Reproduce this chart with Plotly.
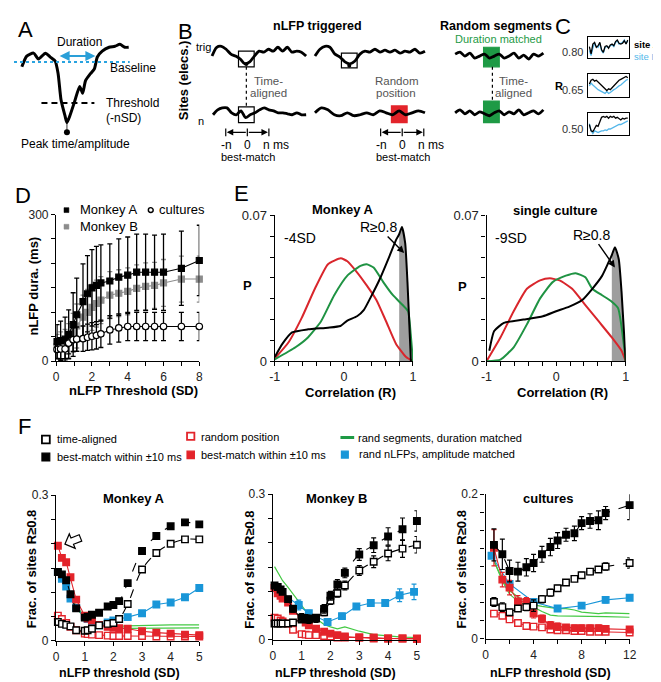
import numpy as np
import plotly.graph_objects as go

W, H = 661, 682
FONT = "Liberation Sans, Arial, sans-serif"

RED = "#e3242b"
E_RED = "#d9262c"
E_GREEN = "#1f9343"
F_GREEN = "#44c944"
BLUE = "#1996d8"
SKY = "#55b7ea"
GREY = "#8c8c8c"
BOX_GREEN = "#1e9a45"

# ───────── A: schematic nLFP (local time, deflection below baseline) ─────────
wave_a_t = [0, 5, 12, 17, 24, 29, 34, 37, 40, 44, 46, 49, 54, 59, 62, 65, 70, 74, 77, 82, 89, 95, 100, 105, 109]
wave_a_v = [5, -6, -9, -3, -9, -5, -1, 12, 39, 55, 62, 55, 40, 25, 32, 19, 12, 7, -5, -11, -15, -16, -18, -15, -15]

# ───────── B: schematic traces (deflection per sample) ─────────
trig_wave_1 = [2, -7, -8, -5, 0, 2, 5, 10, 8, 2, -3, -2, -5, -3, -7, -3, -7, -2, -3, -2, 2]
site_wave_1 = [2, -3, -5, -5, 0, 2, -2, 5, 2, 0, -3, -5, -3, -2, 0, 0, 1, 2, 0, 2, 2]
trig_wave_2 = [2, -5, -8, -7, 0, 3, 8, 10, 7, 0, -3, -2, -5, -2, -4, -2, -4, -1, -3, -2, -5, -1, -3]
site_wave_2 = [0, -5, -3, 2, 3, 0, 3, 2, 0, 2, -2, 0, 2, -2, 2, 0, -2, 0]
rand_trig = [-2, -4, 0, -3, 2, 0, -2, 2, 0, -2, 2, 0, -3, 2, -1, 3, -2, 0, -3]
rand_site = [0, -3, 1, -2, 2, -1, 1, 3, 0, -2, 2, -1, 1, -3, 2, 0, -2, 1, -3]

# ───────── C: example site pairs ─────────
c_r_labels = ["0.80", "0.65", "0.50"]
c1_site_a = [0.55, 0.1, 0.7, 0.8, 0.5, 0.6, 0.8, 0.35, 0.2, 0.55, 0.6, 0.45, 0.65, 0.7, 0.6, 0.85, 0.95, 0.75, 0.7, 0.75, 0.9, 0.7, 0.95]
c1_site_b = [0.3, 0.0, 0.45, 0.75, 0.55, 0.5, 0.75, 0.3, 0.15, 0.5, 0.55, 0.5, 0.6, 0.65, 0.55, 0.8, 0.9, 0.7, 0.75, 0.8, 0.95, 0.75, 0.9]
c2_site_a = [0.55, 0.75, 0.8, 0.7, 0.75, 0.65, 0.6, 0.5, 0.35, 0.25, 0.2, 0.3, 0.25, 0.35, 0.45, 0.6, 0.7, 0.75, 0.8, 0.85, 0.9, 0.95, 0.88]
c2_site_b = [0.45, 0.6, 0.5, 0.4, 0.35, 0.25, 0.2, 0.15, 0.1, 0.05, 0.15, 0.05, 0.1, 0.2, 0.25, 0.3, 0.4, 0.45, 0.5, 0.6, 0.65, 0.75, 0.8]
c3_site_a = [0.45, 0.1, 0.05, 0.25, 0.4, 0.35, 0.6, 0.85, 0.9, 0.85, 0.9, 0.8, 0.9, 0.85, 0.9, 0.8, 0.85, 0.75, 0.7, 0.8, 0.75, 0.8, 0.8]
c3_site_b = [0.5, 0.1, -0.05, 0.1, 0.05, 0.0, 0.05, 0.1, 0.1, 0.15, 0.12, 0.2, 0.2, 0.25, 0.3, 0.35, 0.4, 0.45, 0.45, 0.5, 0.55, 0.6, 0.65]

# ───────── D: nLFP duration vs threshold ─────────
thr_d = [0.05, 0.25, 0.5, 0.7, 0.95, 1.15, 1.5, 1.75, 2.0, 2.25, 2.5, 3.0, 3.5, 4.0, 4.5, 5.0, 5.5, 6.0, 7.0, 8.0]
dur_monkey_a = [40, 42, 45, 55, 75, 95, 122, 138, 150, 155, 160, 164, 172, 176, 182, 182, 182, 182, 190, 206]
sd_monkey_a = [35, 40, 45, 50, 65, 75, 77, 78, 78, 80, 78, 76, 78, 78, 78, 78, 76, 78, 76, 72]
dur_monkey_b = [30, 32, 35, 42, 58, 72, 90, 100, 110, 118, 125, 135, 139, 143, 149, 153, 155, 160, 168, 168]
sd_monkey_b = [25, 28, 30, 35, 40, 45, 45, 47, 47, 48, 48, 48, 48, 48, 48, 48, 47, 48, 47, 47]
dur_cultures = [24, 25, 25, 37, 44, 45, 46, 49, 51, 53, 56, 64, 68, 71, 71, 71, 71, 71, 71, 71]
sd_cultures = [18, 20, 20, 22, 24, 25, 26, 27, 28, 28, 28, 29, 29, 29, 29, 29, 29, 29, 29, 29]

# ───────── E: correlation distributions ─────────
ea_trig_r = [-1, -0.89, -0.75, -0.52, -0.23, -0.05, 0.05, 0.19, 0.29, 0.38, 0.52, 0.66, 0.755, 0.8, 0.84, 0.887, 0.92, 0.953, 0.97]
ea_trig_p = [0.002, 0.0083, 0.0138, 0.0153, 0.0161, 0.0169, 0.0195, 0.0216, 0.0247, 0.0302, 0.0395, 0.0505, 0.0583, 0.061, 0.0645, 0.0567, 0.038, 0.013, 0.0]
ea_rpos_r = [-1, -0.8, -0.61, -0.42, -0.23, -0.045, 0.05, 0.19, 0.33, 0.47, 0.61, 0.755, 0.9, 1.0]
ea_rpos_p = [0.0013, 0.0091, 0.0208, 0.0348, 0.0466, 0.0494, 0.048, 0.0427, 0.0364, 0.0294, 0.0192, 0.0083, 0.002, 0.0]
ea_rseg_r = [-1, -0.7, -0.52, -0.33, -0.14, 0.05, 0.24, 0.33, 0.43, 0.57, 0.71, 0.85, 0.93, 0.967, 1.0]
ea_rseg_p = [0.0009, 0.0067, 0.0114, 0.0192, 0.0317, 0.0411, 0.0458, 0.0466, 0.045, 0.038, 0.0317, 0.027, 0.0239, 0.013, 0.0]

ec_trig_r = [-0.96, -0.89, -0.75, -0.47, -0.19, 0.0, 0.19, 0.375, 0.52, 0.66, 0.75, 0.8, 0.845, 0.9, 0.94, 1.0]
ec_trig_p = [0.005, 0.0145, 0.0184, 0.02, 0.0216, 0.024, 0.0262, 0.0294, 0.0348, 0.041, 0.0473, 0.051, 0.0548, 0.049, 0.0333, 0.0]
ec_rpos_r = [-1, -0.8, -0.61, -0.42, -0.23, -0.09, 0.05, 0.23, 0.42, 0.61, 0.8, 0.94, 1.0]
ec_rpos_p = [0.0, 0.0114, 0.024, 0.0348, 0.0388, 0.0398, 0.0388, 0.0348, 0.027, 0.0192, 0.0114, 0.005, 0.0]
ec_rseg_r = [-1, -0.8, -0.61, -0.42, -0.23, -0.05, 0.14, 0.28, 0.42, 0.52, 0.66, 0.8, 0.89, 1.0]
ec_rseg_p = [0.0, 0.0008, 0.0067, 0.0177, 0.0302, 0.038, 0.0411, 0.0423, 0.0403, 0.0348, 0.0317, 0.0286, 0.0255, 0.0]

# ───────── F: fraction of sites R>=0.8 ─────────
thr_fa = [0.06, 0.2, 0.35, 0.5, 0.7, 1.0, 1.1, 1.25, 1.5, 1.8, 2.0, 2.2, 2.5, 3.0, 3.5, 4.0, 4.5, 5.0]
fa_best = [0.142, 0.137, 0.125, 0.096, 0.067, 0.048, 0.050, 0.054, 0.058, 0.071, 0.074, 0.082, 0.119, 0.185, 0.216, 0.236, 0.244, 0.240]
fa_align = [0.039, 0.035, 0.033, 0.030, 0.022, 0.021, 0.022, 0.025, 0.032, 0.035, 0.037, 0.045, 0.076, 0.147, 0.181, 0.200, 0.209, 0.209]
fa_rbest = [0.196, 0.171, 0.162, 0.131, 0.085, 0.052, 0.046, 0.042, 0.033, 0.029, 0.027, 0.026, 0.025, 0.020, 0.017, 0.015, 0.013, 0.012]
fa_rpos = [0.052, 0.045, 0.037, 0.029, 0.022, 0.015, 0.014, 0.013, 0.012, 0.011, 0.010, 0.010, 0.010, 0.010, 0.009, 0.009, 0.009, 0.009]
fa_ramp = [0.142, 0.128, 0.112, 0.087, 0.068, 0.049, 0.045, 0.040, 0.032, 0.038, 0.042, 0.045, 0.049, 0.057, 0.075, 0.079, 0.090, 0.109]
fa_rseg_1 = [0.140, 0.125, 0.110, 0.090, 0.068, 0.047, 0.042, 0.037, 0.032, 0.031, 0.030, 0.030, 0.031, 0.032, 0.032, 0.033, 0.033, 0.033]
fa_rseg_2 = [0.140, 0.127, 0.113, 0.093, 0.072, 0.050, 0.045, 0.040, 0.034, 0.030, 0.028, 0.027, 0.026, 0.026, 0.026, 0.027, 0.027, 0.027]

thr_fb = [0.06, 0.17, 0.27, 0.34, 0.53, 0.7, 1.0, 1.14, 1.25, 1.5, 1.78, 2.0, 2.24, 2.5, 3.0, 3.5, 4.0, 4.5, 5.0]
fb_best = [0.112, 0.109, 0.104, 0.099, 0.084, 0.064, 0.046, 0.044, 0.042, 0.044, 0.064, 0.091, 0.114, 0.138, 0.176, 0.195, 0.213, 0.228, 0.245]
fb_best_err = [0.005, 0.005, 0.005, 0.005, 0.006, 0.007, 0.008, 0.008, 0.008, 0.008, 0.009, 0.009, 0.010, 0.010, 0.012, 0.015, 0.018, 0.023, 0.021]
fb_align = [0.034, 0.034, 0.034, 0.034, 0.034, 0.036, 0.042, 0.043, 0.044, 0.046, 0.057, 0.081, 0.096, 0.112, 0.143, 0.161, 0.178, 0.188, 0.196]
fb_align_err = [0.003, 0.003, 0.003, 0.003, 0.003, 0.004, 0.005, 0.005, 0.005, 0.006, 0.007, 0.008, 0.008, 0.009, 0.010, 0.012, 0.015, 0.018, 0.017]
fb_rbest = [0.107, 0.096, 0.091, 0.085, 0.077, 0.060, 0.044, 0.036, 0.030, 0.023, 0.017, 0.013, 0.010, 0.007, 0.005, 0.003, 0.003, 0.003, 0.002]
fb_rpos = [0.046, 0.044, 0.040, 0.038, 0.034, 0.021, 0.012, 0.011, 0.010, 0.010, 0.008, 0.007, 0.005, 0.005, 0.005, 0.005, 0.003, 0.003, 0.003]
fb_rseg = [0.151, 0.140, 0.128, 0.122, 0.108, 0.095, 0.070, 0.060, 0.055, 0.044, 0.032, 0.027, 0.023, 0.027, 0.018, 0.011, 0.008, 0.006, 0.005]
thr_fb_amp = [0.17, 0.9, 1.25, 1.9, 2.4, 2.9, 3.4, 3.9, 4.4, 4.9]
fb_ramp = [0.104, 0.072, 0.055, 0.037, 0.049, 0.069, 0.076, 0.076, 0.092, 0.099]
fb_ramp_err = [0.0, 0.010, 0.006, 0.005, 0.006, 0.005, 0.006, 0.006, 0.013, 0.016]

thr_fc = [0.7, 1.4, 2.0, 2.7, 3.4, 4.0, 4.7, 5.4, 6.0, 6.7, 7.4, 8.0, 8.7, 9.4, 10.0, 12.0]
fc_best = [0.130, 0.117, 0.094, 0.093, 0.099, 0.105, 0.117, 0.127, 0.136, 0.144, 0.146, 0.160, 0.163, 0.164, 0.174, 0.185]
fc_best_err = [0.022, 0.021, 0.015, 0.013, 0.012, 0.012, 0.011, 0.012, 0.011, 0.009, 0.010, 0.009, 0.010, 0.013, 0.009, 0.020]
fc_align = [0.051, 0.044, 0.037, 0.042, 0.044, 0.046, 0.055, 0.064, 0.070, 0.078, 0.083, 0.088, 0.093, 0.096, 0.100, 0.105]
fc_align_err = [0.006, 0.006, 0.004, 0.004, 0.005, 0.008, 0.005, 0.005, 0.004, 0.004, 0.003, 0.004, 0.004, 0.004, 0.005, 0.007]
fc_rbest = [0.126, 0.082, 0.071, 0.052, 0.051, 0.035, 0.028, 0.019, 0.017, 0.016, 0.015, 0.015, 0.015, 0.015, 0.014, 0.013]
fc_rbest_err = [0.025, 0.010, 0.010, 0.008, 0.006, 0.006, 0.005, 0.005, 0.005, 0.004, 0.004, 0.004, 0.004, 0.004, 0.004, 0.004]
fc_rpos = [0.035, 0.032, 0.027, 0.022, 0.018, 0.017, 0.016, 0.013, 0.012, 0.012, 0.011, 0.011, 0.010, 0.010, 0.010, 0.009]
fc_rseg_1 = [0.108, 0.082, 0.067, 0.058, 0.051, 0.047, 0.045, 0.043, 0.042, 0.042, 0.040, 0.037, 0.036, 0.035, 0.036, 0.035]
fc_rseg_2 = [0.108, 0.080, 0.062, 0.052, 0.047, 0.044, 0.038, 0.033, 0.032, 0.032, 0.032, 0.031, 0.031, 0.031, 0.031, 0.030]
thr_fc_amp = [0.5, 2.0, 4.0, 6.0, 8.0, 10.0, 12.0]
fc_ramp = [0.115, 0.076, 0.051, 0.042, 0.046, 0.054, 0.057]
fc_ramp_err = [0.0, 0.003, 0.004, 0.004, 0.003, 0.004, 0.004]


def xd(a, b):
    return [a / W, b / W]


def yd(top, bot):
    return [1 - bot / H, 1 - top / H]


fig = go.Figure()


# ────── sketch layer: pixel-coordinate overlay (x, y) ──────
def sk(x, y, **kw):
    kw.setdefault("mode", "lines")
    fig.add_trace(go.Scatter(x=x, y=y, xaxis="x", yaxis="y", hoverinfo="skip",
                             showlegend=False, cliponaxis=False, **kw))


annotations = []
shapes = []


def txt(x, y, s, size=12, bold=False, color="black", anchor="center", angle=0):
    if bold:
        s = f"<b>{s}</b>"
    annotations.append(dict(x=x, y=y, xref="x", yref="y", text=s, showarrow=False,
                            xanchor=anchor, yanchor="middle", textangle=angle,
                            font=dict(family=FONT, size=size, color=color)))


def arrow(x0, y0, x1, y1, color="black", width=1.4, head=2, both=False):
    annotations.append(dict(x=x1, y=y1, ax=x0, ay=y0, xref="x", yref="y", axref="x", ayref="y",
                            text="", showarrow=True, arrowhead=head, arrowsize=1,
                            arrowwidth=width, arrowcolor=color,
                            arrowside="end+start" if both else "end", startarrowhead=head))


def line(x0, y0, x1, y1, color="black", width=1.2, dash="solid"):
    shapes.append(dict(type="line", xref="x", yref="y", x0=x0, y0=y0, x1=x1, y1=y1,
                       line=dict(color=color, width=width, dash=dash)))


def rect(x0, y0, x1, y1, line_color="black", fill="rgba(0,0,0,0)", width=1.2, layer="above"):
    shapes.append(dict(type="rect", xref="x", yref="y", x0=x0, y0=y0, x1=x1, y1=y1,
                       line=dict(color=line_color, width=width), fillcolor=fill, layer=layer))


# panel letters
for lab, (lx, ly) in {"A": (12, 15), "B": (175, 17), "C": (560, 12), "D": (9, 185),
                      "E": (232, 183), "F": (11, 421)}.items():
    txt(lx, ly, lab, size=22)

# ── A ──
sk([8 + t for t in wave_a_t], [48 + v for v in wave_a_v],
   line=dict(color="black", width=3, shape="spline", smoothing=0.6))
line(0, 48, 118, 48, color="#29a3e0", width=2, dash="dot")
line(28, 90, 82, 90, color="black", width=2, dash="6px,4px")
line(54, 111, 54, 120, color="black", width=0.8)
sk([54], [120], mode="markers", marker=dict(color="black", size=6))
arrow(45, 42, 83, 42, color="#2a9fd8", width=2, head=2, both=True)
txt(67, 28, "Duration")
txt(96, 54, "Baseline", anchor="left")
txt(92, 90, "Threshold", anchor="left")
txt(92, 105, "(-nSD)", anchor="left")
txt(63, 132, "Peak time/amplitude")

# ── B ──
txt(173, 67, "Sites (elecs.)", size=13, bold=True, angle=-90)
txt(184, 33, "trig", size=11, anchor="left")
txt(186, 108, "n", size=11, anchor="left")
txt(310, 11, "nLFP triggered", size=12.5, bold=True)
txt(492, 11, "Random segments", size=12.5, bold=True)
txt(494, 25, "Duration matched", size=11, color=BOX_GREEN)


def place(offs, x0, step, base, width=2.8):
    sk([x0 + step * i for i in range(len(offs))], [base + o for o in offs],
       line=dict(color="black", width=width, shape="spline", smoothing=0.8))


rect(385, 93, 401, 110, line_color=RED, fill=RED, layer="below")
rect(479, 33, 495, 53, line_color=BOX_GREEN, fill=BOX_GREEN, layer="below")
rect(479, 88, 495, 110, line_color=BOX_GREEN, fill=BOX_GREEN, layer="below")
place(trig_wave_1, 202, 4.8, 40)
place(site_wave_1, 203, 4.75, 100)
place(trig_wave_2, 307, 5.1, 40)
place(site_wave_2, 307, 6.6, 100)
place(rand_trig, 450, 5.0, 42)
place(rand_site, 450, 5.0, 100)
rect(229, 37, 245, 53)
rect(229, 94, 245, 110)
rect(334, 39, 350, 54)
sk([237, 342], [50, 52], mode="markers", marker=dict(color="black", size=4))
line(237, 53, 237, 95, dash="dot", width=1.2)
line(488, 53, 488, 88, dash="dot", width=1.2)
for cx, cy in [(260, 67), (510, 67)]:
    txt(cx, cy, "Time-", size=11.5, color="#555")
    txt(cx, cy + 13, "aligned", size=11.5, color="#555")
txt(390, 67, "Random", size=11.5, color="#555")
txt(390, 80, "position", size=11.5, color="#555")
for c in (238, 396):
    for xx in (c - 22, c, c + 22):
        line(xx, 116, xx, 124, width=1.2)
    arrow(c, 120, c - 21, 120, width=1.3, head=2)
    arrow(c, 120, c + 21, 120, width=1.3, head=2)
    txt(c - 21, 133, "-n", size=12)
    txt(c, 133, "0", size=12)
    txt(c + 29, 133, "n ms", size=12)
    txt(c + 1, 145, "best-match", size=11)

# ── C ──
c_pairs = [(c1_site_a, c1_site_b), (c2_site_a, c2_site_b), (c3_site_a, c3_site_b)]
for k, (sa, sb) in enumerate(c_pairs):
    xa, ya = f"x{8 + k}", f"y{8 + k}"
    fig.add_trace(go.Scatter(y=sb, xaxis=xa, yaxis=ya, mode="lines", showlegend=False,
                             line=dict(color=SKY, width=1.3), hoverinfo="skip"))
    fig.add_trace(go.Scatter(y=sa, xaxis=xa, yaxis=ya, mode="lines", showlegend=False,
                             line=dict(color="black", width=1.3), hoverinfo="skip"))
for lab, cy in zip(c_r_labels, (38, 77, 117)):
    txt(582, cy, lab, size=11, anchor="right", color="#333")
txt(556, 73, "R", size=11, bold=True)
txt(630, 30.5, "site A", size=9.5, bold=True, anchor="left")
txt(630, 42.5, "site B", size=9.5, color=SKY, anchor="left")

# ── D ──
for yv, err, col, op in [(dur_monkey_b, sd_monkey_b, GREY, False),
                         (dur_monkey_a, sd_monkey_a, "black", False),
                         (dur_cultures, sd_cultures, "black", True)]:
    fig.add_trace(go.Scatter(
        x=thr_d, y=yv, xaxis="x2", yaxis="y2", mode="lines+markers", showlegend=False,
        cliponaxis=False,
        line=dict(color=col, width=1.1),
        marker=dict(symbol="circle" if op else "square", size=6.5 if op else 6,
                    color="white" if op else col, line=dict(color=col, width=1.2)),
        error_y=dict(type="data", array=err, color=col, thickness=1.3, width=2.5)))
rect(51, 197, 56, 202, line_color="black", fill="black", width=0.5)
rect(51, 214, 56, 219, line_color=GREY, fill=GREY, width=0.5)
shapes.append(dict(type="circle", xref="x", yref="y", x0=137, y0=197, x1=142, y1=202,
                   line=dict(color="black", width=1.4), fillcolor="white"))
txt(65, 199, "Monkey A", size=13, anchor="left")
txt(65, 216, "Monkey B", size=13, anchor="left")
txt(146, 199, "cultures", size=13, anchor="left")
txt(20, 277, "nLFP dura. (ms)", size=13, bold=True, angle=-90)
txt(122, 384, "nLFP Threshold (SD)", size=13, bold=True)

# ── E ──
for xa, ya, tr, tp, pr, pp, sr, sp in [
        ("x3", "y3", ea_trig_r, ea_trig_p, ea_rpos_r, ea_rpos_p, ea_rseg_r, ea_rseg_p),
        ("x4", "y4", ec_trig_r, ec_trig_p, ec_rpos_r, ec_rpos_p, ec_rseg_r, ec_rseg_p)]:
    hi = [(r, p) for r, p in zip(tr, tp) if r >= 0.8]
    fig.add_trace(go.Scatter(x=[h[0] for h in hi], y=[h[1] for h in hi], xaxis=xa, yaxis=ya,
                             mode="lines", fill="tozeroy", fillcolor="#9e9e9e",
                             line=dict(width=0), showlegend=False, hoverinfo="skip"))
    for rr, pv, col in [(pr, pp, E_RED), (sr, sp, E_GREEN), (tr, tp, "black")]:
        fig.add_trace(go.Scatter(x=rr, y=pv, xaxis=xa, yaxis=ya, mode="lines", showlegend=False,
                                 line=dict(color=col, width=2, shape="spline", smoothing=0.5)))
txt(336, 199, "Monkey A", size=13, bold=True)
txt(552, 200, "single culture", size=13, bold=True)
txt(292, 228, "-4SD", size=14)
txt(507, 228, "-9SD", size=14)
txt(238, 277, "P", size=13, bold=True)
txt(457, 278, "P", size=13, bold=True)
txt(343, 386, "Correlation (R)", size=13, bold=True)
txt(559, 386, "Correlation (R)", size=13, bold=True)
for xa, ya, hx, hy, ax_, ay_ in [("x3", "y3", 0.872, 0.052, -26, -26),
                                  ("x4", "y4", 0.845, 0.045, -23, -33)]:
    annotations.append(dict(x=hx, y=hy, xref=xa, yref=ya, ax=ax_, ay=ay_, text="R≥0.8",
                            showarrow=True, arrowhead=2, arrowsize=1, arrowwidth=1.4,
                            arrowcolor="black", font=dict(family=FONT, size=14)))


# ── F ──
def sqm(color, filled):
    return dict(symbol="square", size=6.5, color=color if filled else "white",
                line=dict(color=color, width=1.4))


def ftrace(xa, ya, x, y, color, filled=True, dash="solid", err=None, mode="lines+markers",
           width=1.1, spline=False):
    fig.add_trace(go.Scatter(
        x=x, y=y, xaxis=xa, yaxis=ya, mode=mode, showlegend=False, cliponaxis=False,
        line=dict(color=color, width=width, dash=dash, shape="spline" if spline else "linear"),
        marker=sqm(color, filled),
        error_y=dict(type="data", array=err, color=color, thickness=1.2, width=2.5) if err else None))


# Monkey A
ftrace("x5", "y5", thr_fa, fa_rseg_1, F_GREEN, mode="lines", width=1.2)
ftrace("x5", "y5", thr_fa, fa_rseg_2, F_GREEN, mode="lines", width=1.2)
ftrace("x5", "y5", thr_fa, fa_ramp, BLUE)
ftrace("x5", "y5", thr_fa, fa_rpos, RED, filled=False)
ftrace("x5", "y5", thr_fa, fa_rbest, RED)
ftrace("x5", "y5", thr_fa, fa_align, "black", filled=False, dash="dash", spline=True)
ftrace("x5", "y5", thr_fa, fa_best, "black", dash="dash", spline=True)
# Monkey B
ftrace("x6", "y6", thr_fb, fb_rseg, F_GREEN, mode="lines", width=1.2)
ftrace("x6", "y6", thr_fb_amp, fb_ramp, BLUE, err=fb_ramp_err)
ftrace("x6", "y6", thr_fb, fb_rpos, RED, filled=False)
ftrace("x6", "y6", thr_fb, fb_rbest, RED)
ftrace("x6", "y6", thr_fb, fb_align, "black", filled=False, dash="dash", err=fb_align_err, spline=True)
ftrace("x6", "y6", thr_fb, fb_best, "black", dash="dash", err=fb_best_err, spline=True)
# cultures
ftrace("x7", "y7", thr_fc, fc_rseg_1, F_GREEN, mode="lines", width=1.2)
ftrace("x7", "y7", thr_fc, fc_rseg_2, F_GREEN, mode="lines", width=1.2)
ftrace("x7", "y7", thr_fc_amp, fc_ramp, BLUE, err=fc_ramp_err)
ftrace("x7", "y7", thr_fc, fc_rpos, RED, filled=False)
ftrace("x7", "y7", thr_fc, fc_rbest, RED, err=fc_rbest_err)
ftrace("x7", "y7", thr_fc, fc_align, "black", filled=False, dash="dash", err=fc_align_err)
ftrace("x7", "y7", thr_fc, fc_best, "black", dash="dash", err=fc_best_err)

for cx, title in [(122, "Monkey A"), (329, "Monkey B"), (545, "cultures")]:
    txt(cx, 494, title, size=13, bold=True)
for cx in (18, 240, 457):
    txt(cx, 567, "Frac. of sites R≥0.8", size=13, bold=True, angle=-90)
for cx in (108, 328, 547):
    txt(cx, 673, "nLFP threshold (SD)", size=12.5, bold=True)

# hollow arrow in Monkey A panel
ang = np.deg2rad(22)
u = np.array([np.cos(ang), -np.sin(ang)])
v = np.array([np.sin(ang), np.cos(ang)])
tip = np.array([52.0, 541.0])
outline = [(0, 0), (8, -8), (8, -3.5), (17, -3.5), (17, 3.5), (8, 3.5), (8, 8)]
pts = [tip + a * u + b * v for a, b in outline]
path = "M " + " L ".join(f"{p[0]:.1f},{p[1]:.1f}" for p in pts) + " Z"
shapes.append(dict(type="path", xref="x", yref="y", path=path, fillcolor="white",
                   line=dict(color="black", width=1.2)))

# F legend
rect(28.5, 430, 36.5, 438, width=1.8, fill="white")
rect(28.5, 448, 36.5, 456, fill="black")
txt(42, 434, "time-aligned", size=11, anchor="left")
txt(42, 452, "best-match within ±10 ms", size=11, anchor="left")
rect(176.5, 427, 184, 434.5, line_color=RED, width=1.8, fill="white")
rect(176.5, 446, 184, 453.5, line_color=RED, fill=RED)
txt(189, 431, "random position", size=11, anchor="left")
txt(189, 450, "best-match within ±10 ms", size=11, anchor="left")
line(333, 432, 347, 432, color="#1e9a45", width=3)
rect(334, 446, 341, 453, line_color=BLUE, fill=BLUE)
txt(349, 432, "rand segments, duration matched", size=11, anchor="left")
txt(350, 449, "rand nLFPs, amplitude matched", size=11, anchor="left")


# ────── axes ──────
def axis(domain, rng, anchor, tickvals, ticktext, size=12, **kw):
    return dict(domain=domain, range=rng, anchor=anchor, tickvals=tickvals, ticktext=ticktext,
                showline=True, linecolor="black", linewidth=1.4, ticks="outside", ticklen=4,
                tickwidth=1.2, tickcolor="black", showgrid=False, zeroline=False,
                tickfont=dict(family=FONT, size=size, color="#222"), fixedrange=True, **kw)


def lab(vals, keep):
    return [(f"{v:g}" if any(abs(v - k) < 1e-9 for k in keep) else "") for v in vals]


d_x = list(range(9))
d_y = list(range(0, 301, 50))
e_x = [round(-1 + 0.2 * i, 1) for i in range(11)]
e_y = [round(0.01 * i, 2) for i in range(8)]
f_x = list(range(6))
f_y = [round(0.05 * i, 2) for i in range(7)]
fc_x = list(range(0, 13, 2))
fc_y = [round(0.025 * i, 3) for i in range(9)]

hidden = dict(visible=False, fixedrange=True)
layout_axes = dict(
    xaxis=dict(domain=[0, 1], range=[0, W], **hidden),
    yaxis=dict(domain=[0, 1], range=[H, 0], **hidden),
    xaxis2=axis(xd(43, 189), [0, 8], "y2", d_x, lab(d_x, [0, 2, 4, 6, 8])),
    yaxis2=axis(yd(204, 354), [0, 300], "x2", d_y, lab(d_y, [0, 300])),
    xaxis3=axis(xd(266, 407), [-1, 1], "y3", e_x, lab(e_x, [-1, 0, 1]), size=12.5),
    yaxis3=axis(yd(205, 354), [0, 0.07], "x3", e_y, lab(e_y, [0, 0.07]), size=13),
    xaxis4=axis(xd(482, 624), [-1, 1], "y4", e_x, lab(e_x, [-1, 0, 1]), size=12.5),
    yaxis4=axis(yd(205, 354), [0, 0.07], "x4", e_y, lab(e_y, [0, 0.07]), size=13),
    xaxis5=axis(xd(43, 189), [0, 5], "y5", f_x, lab(f_x, f_x)),
    yaxis5=axis(yd(491, 640), [0, 0.3], "x5", f_y, lab(f_y, [0, 0.3])),
    xaxis6=axis(xd(264, 411), [0, 5], "y6", f_x, lab(f_x, f_x)),
    yaxis6=axis(yd(490, 639), [0, 0.3], "x6", f_y, lab(f_y, [0, 0.3])),
    xaxis7=axis(xd(481, 628), [0, 12], "y7", fc_x, lab(fc_x, [0, 4, 8, 12])),
    yaxis7=axis(yd(490, 638), [0, 0.2], "x7", fc_y, lab(fc_y, [0, 0.2])),
)
box = dict(showline=True, mirror=True, linecolor="black", linewidth=1.4, ticks="",
           showticklabels=False, showgrid=False, zeroline=False, fixedrange=True)
for k, (top, bot) in enumerate([(23, 44), (60, 84), (100, 123)]):
    layout_axes[f"xaxis{8 + k}"] = dict(domain=xd(586, 627), range=[-0.5, 22.5], anchor=f"y{8 + k}", **box)
    layout_axes[f"yaxis{8 + k}"] = dict(domain=yd(top, bot), range=[-0.15, 1.1], anchor=f"x{8 + k}", **box)

fig.update_layout(
    width=W, height=H, autosize=False,
    margin=dict(l=0, r=0, t=0, b=0),
    paper_bgcolor="white", plot_bgcolor="rgba(0,0,0,0)",
    font=dict(family=FONT, size=12, color="black"),
    showlegend=False,
    annotations=annotations, shapes=shapes,
    **layout_axes,
)

fig.write_html("out.html")
